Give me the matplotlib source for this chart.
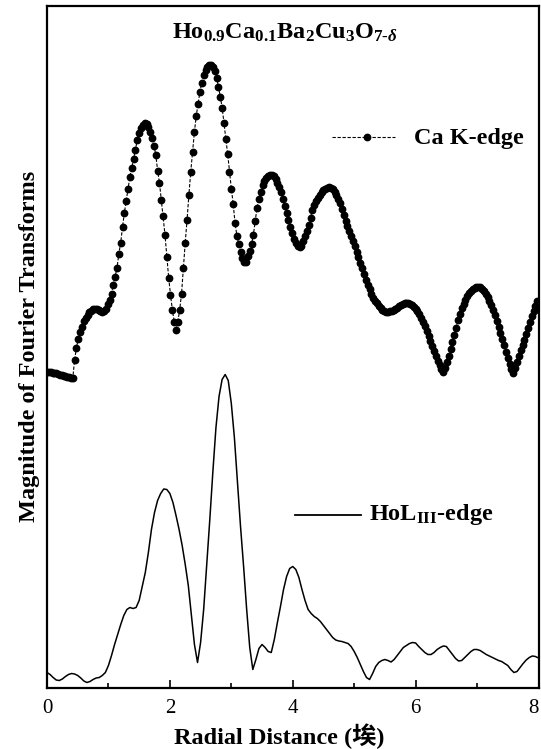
import numpy as np
import matplotlib
matplotlib.use("Agg")
import matplotlib.pyplot as plt
from matplotlib.ticker import MultipleLocator

plt.rcParams['font.family'] = ['Liberation Serif', 'Noto Sans CJK SC']
plt.rcParams['mathtext.fontset'] = 'custom'
plt.rcParams['mathtext.rm'] = 'Liberation Serif:bold'
plt.rcParams['mathtext.it'] = 'Liberation Serif:italic:bold'
plt.rcParams['mathtext.bf'] = 'Liberation Serif:bold'

# Ca K-edge, r step 0.03 A
ca_r = np.arange(267) * 0.03
ca_mag = [
    316, 316, 315.5, 315, 315, 314.5, 314, 313, 312.5, 312,
    311.5, 311, 310.5, 310, 309.5, 328, 340, 349, 356, 361,
    367, 370, 373, 375.5, 377, 378.5, 379, 378.5, 377.5, 376.5,
    376, 377, 379, 384, 388, 394, 403, 411, 420, 434,
    445, 461, 475, 487, 499, 511, 520, 529, 538, 548,
    555, 560, 563, 565, 564, 561, 556, 550, 542, 533,
    517, 505, 488, 472, 453, 431, 410, 393, 378, 366,
    358, 366, 378, 394, 420, 445, 468, 493, 516, 536,
    556, 572, 584, 596, 605, 613, 618, 621, 623, 622.5,
    621, 617, 610, 601, 591, 580, 565, 549, 534, 516,
    499, 484, 465, 452, 444, 436, 430, 426, 426, 432,
    437, 444, 453, 467, 480, 489, 496, 503, 507, 510,
    511.5, 512.5, 513, 512, 509, 505, 501, 496, 489, 482,
    475, 468, 461, 455, 449, 445, 442, 440.5, 442, 447,
    452, 457, 463, 470, 478, 483, 487, 490, 493, 495.5,
    497.5, 499, 500, 500.5, 500, 499, 496, 493, 489, 485,
    479, 473, 467, 462, 457, 452, 447, 442, 436, 431,
    425, 420, 414, 408, 403, 399, 394, 390, 387, 384.5,
    382, 380, 378, 377, 376, 376, 376.5, 377, 378, 379,
    380, 381.5, 383, 384, 385, 385, 385, 384, 383, 381,
    379, 377, 374, 370, 366, 362, 357, 352, 347, 342,
    337, 332, 327, 323, 319, 316, 320, 326, 332, 339,
    346, 353, 360, 368, 374, 380, 384, 388, 392, 395,
    397, 399, 400, 401, 401, 400.5, 399, 397, 394, 391,
    387, 383, 378, 373, 367, 361, 355, 349, 343, 336,
    330, 324, 319, 315, 320, 326, 332, 338, 343, 348,
    354, 360, 366, 372, 377, 382, 387,
]

# Ho L_III-edge, r step 0.05 A
ho_r = np.arange(161) * 0.05
ho_mag = [
    15, 13, 10, 7.5, 7, 8.5, 11, 13, 14, 13.5,
    12, 9.5, 6.5, 5, 6, 8, 9.5, 10, 12, 15,
    22, 32, 43, 53, 63, 72, 78, 80, 79, 80,
    87, 101, 115, 135, 158, 175, 187, 194, 198.5, 198,
    194, 185, 172, 158, 142, 123, 102, 72, 43, 25,
    45, 78, 123, 168, 216, 260, 291, 308, 313, 307,
    284, 250, 206, 161, 121, 78, 40, 18, 28, 39,
    43, 40, 36, 35, 48, 65, 81, 98, 111, 119,
    121, 118, 110, 98, 87, 78, 74, 71, 69, 66,
    62, 58, 54, 50, 47.5, 46.5, 46, 45, 44, 41,
    36, 30, 23, 16, 10, 8, 14, 21, 25, 27,
    28, 27, 25.5, 28, 32, 36, 40, 42, 44, 45,
    44.5, 41, 38, 35, 33, 33, 35, 38, 40, 41.5,
    41, 37, 33, 29, 26.5, 27, 30, 33, 36, 38,
    38, 37, 35, 33, 31.5, 30, 28.5, 27, 26, 24,
    22, 18, 15, 16, 20, 24, 27.5, 30, 31.5, 31,
    29.5,
]
tick_vals = [0, 2, 4, 6, 8]
tick_labels = ['0', '2', '4', '6', '8']

fig = plt.figure(figsize=(5.41, 7.49), dpi=100)
ax = fig.add_axes([47 / 541, 1 - 687.5 / 749, 491.5 / 541, 681.5 / 749])

ax.plot(ca_r, ca_mag, color='black', ls='--', lw=0.8, dashes=(3, 1.5),
        marker='o', ms=4.6, mec='black', mfc='black')
ax.plot(ho_r, ho_mag, color='black', lw=1.1)

ax.set_xlim(0, 8)
ax.set_ylim(0, 681.5)
ax.set_xticks(tick_vals, tick_labels)
ax.xaxis.set_minor_locator(MultipleLocator(1))
ax.tick_params(axis='x', which='major', direction='in', length=6, width=1.2,
               labelsize=15, pad=8)
ax.tick_params(axis='x', which='minor', direction='in', length=3.5, width=1.2)
ax.set_yticks([])
for s in ax.spines.values():
    s.set_linewidth(1.6)
ax.xaxis.get_major_ticks()[-1].label1.set_horizontalalignment('right')

# legends drawn by hand
ax.plot([4.64, 5.67], [551, 551], color='black', ls='--', lw=0.8, dashes=(3, 1.5))
ax.plot([5.21], [551], 'o', color='black', ms=4.6)
ax.text(5.97, 549, 'Ca K-edge', fontsize=17.5, fontweight='bold', va='center')

ax.plot([4.04, 5.11], [173, 173], color='black', lw=1.3)
ax.text(5.24, 173, 'HoL$_{\\mathrm{III}}$-edge', fontsize=17.5, fontweight='bold', va='center')

ax.text(3.87, 655, 'Ho$_{0.9}$Ca$_{0.1}$Ba$_2$Cu$_3$O$_{7\\text{-}\\delta}$',
        fontsize=17.5, fontweight='bold', ha='center', va='center')

ax.set_ylabel('Magnitude of Fourier Transforms', fontsize=17.5, fontweight='bold', labelpad=5)
ax.set_xlabel('Radial Distance (埃)', fontsize=17.5, fontweight='bold')
ax.xaxis.set_label_coords(0.473, -0.052)

fig.savefig('out.png', dpi=100)
